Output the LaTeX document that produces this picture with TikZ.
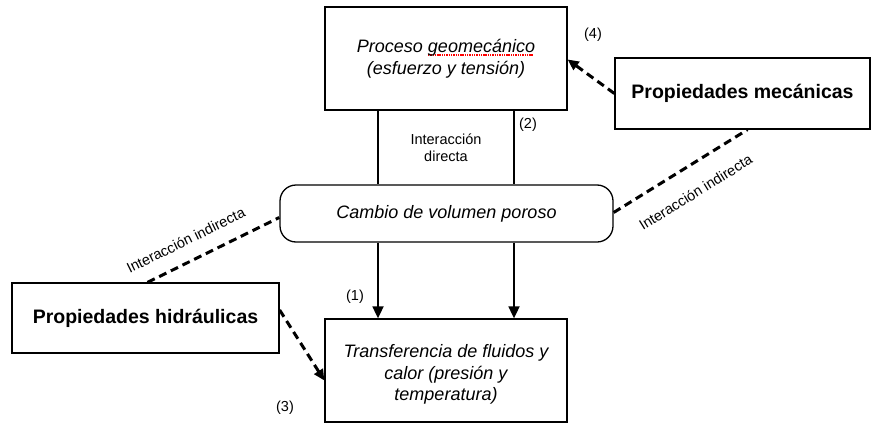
\documentclass[tikz,border=0pt]{standalone}
\usepackage{fontspec}
\setmainfont{Liberation Sans}
\usetikzlibrary{arrows.meta,calc}
\newcommand\spellmark[1]{\setbox0\hbox{#1}\rlap{\raisebox{-3pt}{\color{red}\leaders\hbox{\rule{1.4pt}{1.1pt}\hspace{0.9pt}}\hskip\wd0}}#1}
\tikzset{
  box/.style={draw=black,line width=1.3pt,minimum width=242pt,minimum height=103pt,align=center,inner sep=2pt,
    font=\fontsize{18}{21.5}\selectfont\itshape},
  propbox/.style={draw=black,line width=1.3pt,align=center,font=\fontsize{19.5}{22}\selectfont\bfseries},
  lab/.style={font=\fontsize{14.5}{17}\selectfont,inner sep=1pt,align=center},
  solidlink/.style={line width=1.8pt},
  dashlink/.style={line width=3pt,dash pattern=on 8pt off 5pt},
  tip/.style={-{Triangle[length=12pt,width=11pt]}},
  dtip/.style={-{Triangle[length=11pt,width=10pt]}}
}
\begin{document}
\begin{tikzpicture}[x=1pt,y=-1pt]
\useasboundingbox (0,0) rectangle (872,423);
\node[box] (top) at (446,58.5) {Proceso \spellmark{geomecánico}\\(esfuerzo y tensión)};
\node[box,minimum width=333pt,minimum height=57pt,rounded corners=16pt] (cam) at (446.5,213.5) {Cambio de volumen poroso};
\node[propbox,minimum width=255pt,minimum height=71pt] (mec) at (742.5,93.5) {Propiedades mecánicas};
\node[propbox,minimum width=267pt,minimum height=70pt] (hid) at (145.5,318) {Propiedades hidráulicas};
\node[box] (tra) at (446,370.5) {\rule{0pt}{21pt}Transferencia de fluidos y\\calor (presión y\\temperatura)};
% vertical links
\coordinate (xa) at (378,0);
\coordinate (xb) at (514,0);
\draw[solidlink] (top.south -| xa) -- (cam.north -| xa);
\draw[solidlink] (top.south -| xb) -- (cam.north -| xb);
\draw[solidlink,tip] (cam.south -| xa) -- (tra.north -| xa);
\draw[solidlink,tip] (cam.south -| xb) -- (tra.north -| xb);
% dashed links
\coordinate (mecs) at ($(mec.south)+(5,0)$);
\coordinate (hidn) at ($(hid.north)+(2,0)$);
\coordinate (came) at ($(cam.east)+(0,-1)$);
\coordinate (camw) at ($(cam.west)+(0,4)$);
\coordinate (tope) at ($(top.east)+(0,1)$);
\coordinate (hide) at ($(hid.east)+(0,-8)$);
\coordinate (traw) at ($(tra.west)+(0,10)$);
\draw[dashlink,dtip] (mec.west) -- (tope);
\draw[dashlink] (came) -- node[lab,sloped,below=18pt,pos=0.51] {Interacción indirecta} (mecs);
\draw[dashlink] (hidn) -- node[lab,sloped,above=13pt,pos=0.36] {Interacción indirecta} (camw);
\draw[dashlink,dtip] (hide) -- (traw);
% labels
\node[lab] (l4) at (593,35) {(4)};
\node[lab] (l2) at (528,125) {(2)};
\node[lab] (ld) at (446,148) {Interacción\\directa};
\node[lab] (l1) at (355,297) {(1)};
\node[lab] (l3) at (285,408) {(3)};
\end{tikzpicture}
\end{document}
